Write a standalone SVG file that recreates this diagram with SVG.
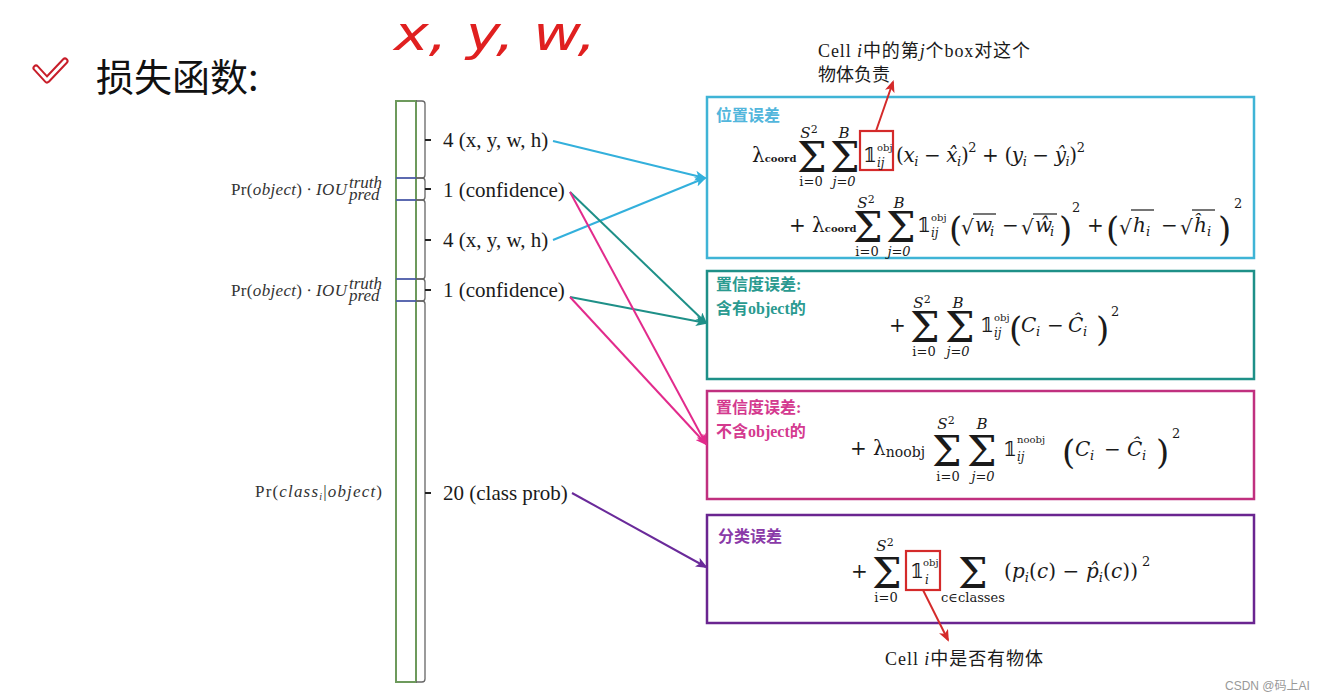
<svg xmlns="http://www.w3.org/2000/svg" width="1330" height="700" viewBox="0 0 1330 700">
<style>
.mt{font-family:"DejaVu Serif","Liberation Serif",serif;fill:#1a1a1a}
.f{font-size:20px}
.it{font-style:italic}
.sig{font-size:42px}
.lim{font-size:13px;text-anchor:middle}
.up{font-size:15px;text-anchor:middle;font-style:italic}
.sub{font-size:12px;font-style:italic}
.ob{font-size:10px}
.bp{font-size:34px}
.sq{font-size:13px}
.lbl{font-family:"Liberation Serif","Noto Sans CJK SC",serif;font-size:21px;fill:#1a1a1a}
.pr{font-family:"Liberation Serif",serif;font-size:17px;fill:#333}
.cj{font-family:"Liberation Serif","Noto Sans CJK SC",sans-serif;font-size:16px;font-weight:bold}
.note{font-family:"Liberation Serif","Noto Sans CJK SC",serif;font-size:18px;fill:#1a1a1a}
.wm{font-family:"Liberation Sans","Noto Sans CJK SC",sans-serif;font-size:12px;fill:#999}
.box{fill:none;stroke-width:2.5}
.ov{stroke:#1a1a1a;stroke-width:1.2}
.br{fill:none;stroke:#666;stroke-width:1.3}
.tk{stroke:#222;stroke-width:2}
</style>
<defs>
<marker id="aC" markerWidth="12" markerHeight="10" refX="10" refY="5" orient="auto" markerUnits="userSpaceOnUse"><path d="M0,0 L12,5 L0,10 L3,5 z" fill="#33b0dc"/></marker>
<marker id="aT" markerWidth="12" markerHeight="10" refX="10" refY="5" orient="auto" markerUnits="userSpaceOnUse"><path d="M0,0 L12,5 L0,10 L3,5 z" fill="#1e9088"/></marker>
<marker id="aM" markerWidth="12" markerHeight="10" refX="10" refY="5" orient="auto" markerUnits="userSpaceOnUse"><path d="M0,0 L12,5 L0,10 L3,5 z" fill="#e22b8c"/></marker>
<marker id="aP" markerWidth="12" markerHeight="10" refX="10" refY="5" orient="auto" markerUnits="userSpaceOnUse"><path d="M0,0 L12,5 L0,10 L3,5 z" fill="#6a2a9a"/></marker>
<marker id="aR" markerWidth="12" markerHeight="10" refX="10" refY="5" orient="auto" markerUnits="userSpaceOnUse"><path d="M0,0 L12,5 L0,10 L3,5 z" fill="#d42a2a"/></marker>
</defs>
<rect width="1330" height="700" fill="#ffffff"/>

<g id="title">
<path d="M36,68 L47,80 L65,61" fill="none" stroke="#c81e2a" stroke-width="7" stroke-linecap="round" stroke-linejoin="round"/>
<path d="M36,68 L47,80 L65,61" fill="none" stroke="#ffffff" stroke-width="3" stroke-linecap="round" stroke-linejoin="round"/>
<text x="96" y="91" font-family="Noto Sans CJK SC" font-size="38" fill="#111">损失函数:</text>
</g>

<g id="handwriting">
<text x="394" y="50" font-family="DejaVu Sans" font-size="48" font-style="italic" font-weight="200" fill="#e02020" textLength="202" lengthAdjust="spacingAndGlyphs">x, y, w,</text>
</g>

<g id="column">
<rect x="396" y="101" width="20" height="581" fill="#fff" stroke="#6d9a5c" stroke-width="2"/>
<g stroke="#4a5aa8" stroke-width="1.8">
<line x1="396" y1="178" x2="416" y2="178"/><line x1="396" y1="200" x2="416" y2="200"/>
<line x1="396" y1="279" x2="416" y2="279"/><line x1="396" y1="301" x2="416" y2="301"/>
</g>
<path class="br" d="M416,101 H422 Q425,101 425,104 V175 Q425,178 422,178 H416"/>
<path class="br" d="M416,178 H422 Q425,178 425,181 V197 Q425,200 422,200 H416"/>
<path class="br" d="M416,200 H422 Q425,200 425,203 V276 Q425,279 422,279 H416"/>
<path class="br" d="M416,279 H422 Q425,279 425,282 V298 Q425,301 422,301 H416"/>
<path class="br" d="M416,301 H422 Q425,301 425,304 V679 Q425,682 422,682 H416"/>
<line class="tk" x1="425" y1="140" x2="431" y2="140"/>
<line class="tk" x1="425" y1="189" x2="431" y2="189"/>
<line class="tk" x1="425" y1="240" x2="431" y2="240"/>
<line class="tk" x1="425" y1="290" x2="431" y2="290"/>
<line class="tk" x1="425" y1="493" x2="431" y2="493"/>
<text class="lbl" x="443" y="147">4 (x, y, w, h)</text>
<text class="lbl" x="443" y="197">1 (confidence)</text>
<text class="lbl" x="443" y="247">4 (x, y, w, h)</text>
<text class="lbl" x="443" y="297">1 (confidence)</text>
<text class="lbl" x="443" y="500">20 (class prob)</text>
<text class="pr" x="231" y="195" textLength="116">Pr(<tspan font-style="italic">object</tspan>) ∙ <tspan font-style="italic">IOU</tspan></text>
<text class="pr" x="349" y="188" font-size="12" font-style="italic">truth</text>
<text class="pr" x="349" y="200" font-size="12" font-style="italic">pred</text>
<text class="pr" x="231" y="296" textLength="116">Pr(<tspan font-style="italic">object</tspan>) ∙ <tspan font-style="italic">IOU</tspan></text>
<text class="pr" x="349" y="289" font-size="12" font-style="italic">truth</text>
<text class="pr" x="349" y="301" font-size="12" font-style="italic">pred</text>
<text class="pr" x="255" y="497" textLength="127">Pr(<tspan font-style="italic">class</tspan><tspan font-size="10" dy="3" font-style="italic">i</tspan><tspan dy="-3">|</tspan><tspan font-style="italic">object</tspan>)</text>
</g>

<g id="box-coord">
<rect class="box" x="707" y="97" width="547" height="161" stroke="#3fb4d6"/>
<text class="cj" x="716" y="121" fill="#52b6dc">位置误差</text>
<text class="mt f" x="752" y="162">λ<tspan font-size="10" font-weight="bold">coord</tspan></text>
<text class="mt sig" x="797" y="172">Σ</text>
<text class="mt up" x="809" y="138">S<tspan font-size="11" dy="-5" font-style="normal">2</tspan></text>
<text class="mt lim" x="811" y="186">i=0</text>
<text class="mt sig" x="830" y="172">Σ</text>
<text class="mt up" x="844" y="138">B</text>
<text class="mt lim it" x="844" y="186">j=0</text>
<rect x="860" y="131" width="33" height="39" fill="none" stroke="#d42a2a" stroke-width="2.2"/>
<text class="mt f" x="863" y="162">𝟙</text>
<text class="mt ob" x="877" y="151">obj</text>
<text class="mt sub" x="877" y="167">ij</text>
<text class="mt f" x="896" y="162" textLength="189">(<tspan class="it">x</tspan><tspan class="sq it" dy="4">i</tspan><tspan dy="-4"> − </tspan><tspan class="it">x̂</tspan><tspan class="sq it" dy="4">i</tspan><tspan dy="-4">)</tspan><tspan class="sq" dy="-10">2</tspan><tspan dy="10"> + (</tspan><tspan class="it">y</tspan><tspan class="sq it" dy="4">i</tspan><tspan dy="-4"> − </tspan><tspan class="it">ŷ</tspan><tspan class="sq it" dy="4">i</tspan><tspan dy="-4">)</tspan><tspan class="sq" dy="-10">2</tspan></text>

<text class="mt f" x="789" y="232">+ λ<tspan font-size="10" font-weight="bold">coord</tspan></text>
<text class="mt sig" x="853" y="242">Σ</text>
<text class="mt up" x="866" y="208">S<tspan font-size="11" dy="-5" font-style="normal">2</tspan></text>
<text class="mt lim" x="867" y="256">i=0</text>
<text class="mt sig" x="886" y="242">Σ</text>
<text class="mt up" x="899" y="208">B</text>
<text class="mt lim it" x="899" y="256">j=0</text>
<text class="mt f" x="917" y="232">𝟙</text>
<text class="mt ob" x="931" y="221">obj</text>
<text class="mt sub" x="931" y="237">ij</text>
<text class="mt bp" x="949" y="241">(</text>
<text class="mt f" x="961" y="234">√</text>
<line class="ov" x1="973" y1="214" x2="996" y2="214"/>
<text class="mt f it" x="975" y="232">w</text><text class="mt sq it" x="990" y="236">i</text>
<text class="mt f" x="1002" y="232">−</text>
<text class="mt f" x="1021" y="234">√</text>
<line class="ov" x1="1033" y1="214" x2="1057" y2="214"/>
<text class="mt f it" x="1035" y="232">ŵ</text><text class="mt sq it" x="1050" y="236">i</text>
<text class="mt bp" x="1059" y="241">)</text>
<text class="mt sq" x="1072" y="212">2</text>
<text class="mt f" x="1087" y="232">+</text>
<text class="mt bp" x="1106" y="241">(</text>
<text class="mt f" x="1119" y="234">√</text>
<line class="ov" x1="1131" y1="210" x2="1154" y2="210"/>
<text class="mt f it" x="1133" y="232">h</text><text class="mt sq it" x="1146" y="236">i</text>
<text class="mt f" x="1161" y="232">−</text>
<text class="mt f" x="1180" y="234">√</text>
<line class="ov" x1="1192" y1="210" x2="1215" y2="210"/>
<text class="mt f it" x="1194" y="232">ĥ</text><text class="mt sq it" x="1207" y="236">i</text>
<text class="mt bp" x="1218" y="241">)</text>
<text class="mt sq" x="1234" y="208">2</text>
</g>

<g id="box-conf-obj">
<rect class="box" x="707" y="271" width="547" height="108" stroke="#1e9088"/>
<text class="cj" x="716" y="290" fill="#2a9a90">置信度误差:</text>
<text class="cj" x="716" y="314" fill="#2a9a90">含有object的</text>
<text class="mt f" x="889" y="332">+</text>
<text class="mt sig" x="910" y="342">Σ</text>
<text class="mt up" x="922" y="308">S<tspan font-size="11" dy="-5" font-style="normal">2</tspan></text>
<text class="mt lim" x="924" y="356">i=0</text>
<text class="mt sig" x="945" y="342">Σ</text>
<text class="mt up" x="958" y="308">B</text>
<text class="mt lim it" x="958" y="356">j=0</text>
<text class="mt f" x="980" y="332">𝟙</text>
<text class="mt ob" x="994" y="321">obj</text>
<text class="mt sub" x="994" y="337">ij</text>
<text class="mt bp" x="1009" y="341">(</text>
<text class="mt f it" x="1021" y="332">C</text><text class="mt sq it" x="1036" y="336">i</text>
<text class="mt f" x="1047" y="332">−</text>
<text class="mt f it" x="1068" y="332">Ĉ</text><text class="mt sq it" x="1083" y="336">i</text>
<text class="mt bp" x="1096" y="341">)</text>
<text class="mt sq" x="1111" y="316">2</text>
</g>

<g id="box-conf-noobj">
<rect class="box" x="707" y="391" width="547" height="108" stroke="#c0307f"/>
<text class="cj" x="716" y="413" fill="#d43a8f">置信度误差:</text>
<text class="cj" x="716" y="437" fill="#d43a8f">不含object的</text>
<text class="mt f" x="850" y="455">+ λ<tspan font-size="14" dy="2">noobj</tspan></text>
<text class="mt sig" x="932" y="466" font-size="44">Σ</text>
<text class="mt up" x="946" y="429">S<tspan font-size="11" dy="-5" font-style="normal">2</tspan></text>
<text class="mt lim" x="948" y="481">i=0</text>
<text class="mt sig" x="967" y="466" font-size="44">Σ</text>
<text class="mt up" x="982" y="429">B</text>
<text class="mt lim it" x="983" y="481">j=0</text>
<text class="mt f" x="1003" y="456">𝟙</text>
<text class="mt ob" x="1017" y="443" font-size="13">noobj</text>
<text class="mt sub" x="1017" y="461">ij</text>
<text class="mt bp" x="1062" y="464" font-size="36">(</text>
<text class="mt f it" x="1075" y="456">C</text><text class="mt sq it" x="1090" y="460">i</text>
<text class="mt f" x="1104" y="456">−</text>
<text class="mt f it" x="1127" y="456">Ĉ</text><text class="mt sq it" x="1142" y="460">i</text>
<text class="mt bp" x="1156" y="464" font-size="36">)</text>
<text class="mt sq" x="1172" y="438">2</text>
</g>

<g id="box-class">
<rect class="box" x="707" y="515" width="547" height="108" stroke="#6a2590"/>
<text class="cj" x="718" y="542" fill="#8a3aa8">分类误差</text>
<text class="mt f" x="851" y="578">+</text>
<text class="mt sig" x="872" y="588">Σ</text>
<text class="mt up" x="885" y="551">S<tspan font-size="11" dy="-5" font-style="normal">2</tspan></text>
<text class="mt lim" x="886" y="602">i=0</text>
<rect x="906" y="551" width="34" height="39" fill="none" stroke="#d42a2a" stroke-width="2.2"/>
<text class="mt f" x="910" y="578">𝟙</text>
<text class="mt ob" x="923" y="566">obj</text>
<text class="mt sub" x="925" y="584">i</text>
<text class="mt sig" x="958" y="588">Σ</text>
<text class="mt lim" x="973" y="602" font-size="12">c∈classes</text>
<text class="mt f" x="1004" y="578" textLength="134">(<tspan class="it">p</tspan><tspan class="sq it" dy="4">i</tspan><tspan dy="-4">(</tspan><tspan class="it">c</tspan>) − <tspan class="it">p̂</tspan><tspan class="sq it" dy="4">i</tspan><tspan dy="-4">(</tspan><tspan class="it">c</tspan>))</text>
<text class="mt sq" x="1142" y="566">2</text>
</g>

<g id="note-top">
<text class="note" x="818" y="57" textLength="212">Cell <tspan font-style="italic">i</tspan>中的第<tspan font-style="italic">j</tspan>个box对这个</text>
<text class="note" x="818" y="81">物体负责</text>
</g>

<g id="note-bottom">
<text class="note" x="885" y="665" textLength="158">Cell <tspan font-style="italic">i</tspan>中是否有物体</text>
</g>

<g id="watermark">
<text class="wm" x="1225" y="690">CSDN @码上AI</text>
</g>

<g id="connectors" fill="none" stroke-width="2">
<line x1="553" y1="141" x2="705" y2="178" stroke="#33b0dc" marker-end="url(#aC)"/>
<line x1="553" y1="240" x2="705" y2="178" stroke="#33b0dc" marker-end="url(#aC)"/>
<line x1="570" y1="192" x2="706" y2="323" stroke="#1e9088" marker-end="url(#aT)"/>
<line x1="570" y1="297" x2="706" y2="323" stroke="#1e9088" marker-end="url(#aT)"/>
<line x1="570" y1="192" x2="706" y2="444" stroke="#e22b8c" marker-end="url(#aM)"/>
<line x1="570" y1="297" x2="706" y2="444" stroke="#e22b8c" marker-end="url(#aM)"/>
<line x1="572" y1="493" x2="706" y2="567" stroke="#6a2a9a" marker-end="url(#aP)"/>
<line x1="876" y1="131" x2="893" y2="82" stroke="#d42a2a" marker-end="url(#aR)"/>
<line x1="923" y1="590" x2="948" y2="640" stroke="#d42a2a" marker-end="url(#aR)"/>
</g>
</svg>
